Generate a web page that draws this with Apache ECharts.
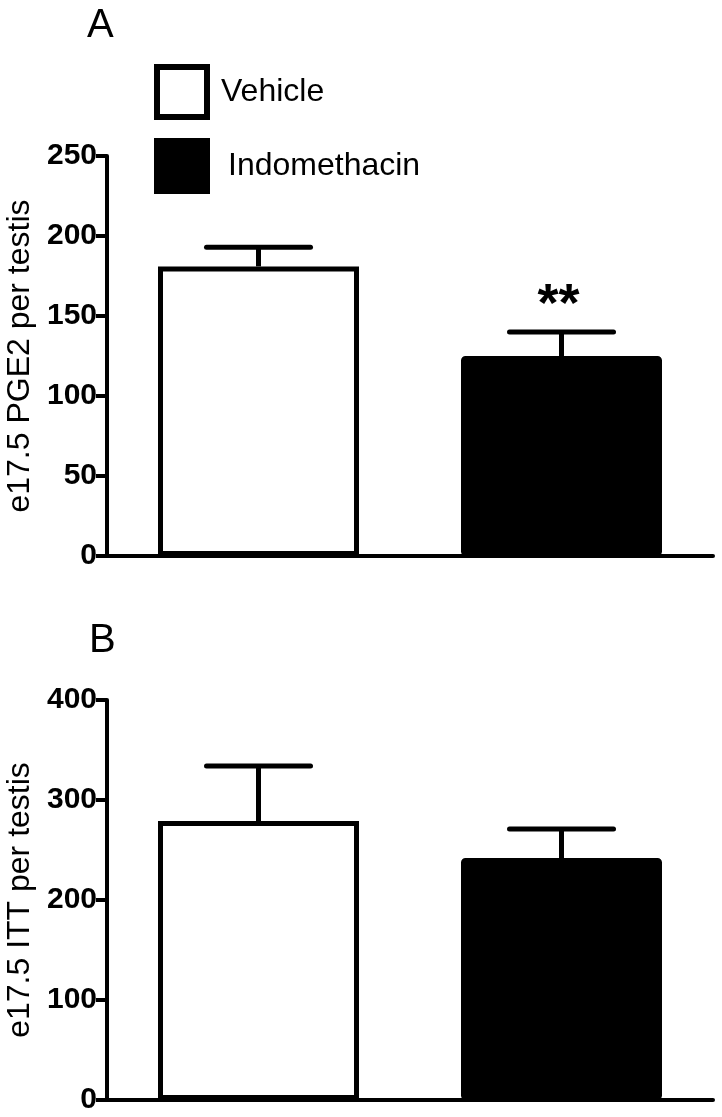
<!DOCTYPE html>
<html>
<head>
<meta charset="utf-8">
<script src="https://cdn.jsdelivr.net/npm/echarts@6/dist/echarts.min.js"></script>
<style>
  html, body { margin: 0; padding: 0; background: #fff; }
  #chart { width: 722px; height: 1117px; }
</style>
</head>
<body>
<div id="chart"></div>
<script>
// ---- data ----
const categories = ['Vehicle', 'Indomethacin'];
const pgeMean = [181, 125];
const pgeSem = [12, 15];
const pgeSignificance = ['', '**'];
const ittMean = [279, 242];
const ittSem = [55, 29];
const ittSignificance = ['', ''];
const pgeTicks = [0, 50, 100, 150, 200, 250];
const ittTicks = [0, 100, 200, 300, 400];
const panelLabels = ['A', 'B'];
const yTitles = ['e17.5 PGE2 per testis', 'e17.5 ITT per testis'];

const FONT = '"Liberation Sans", Arial, Helvetica, sans-serif';
const chart = echarts.init(document.getElementById('chart'), null, { renderer: 'canvas' });

function yAxisFor(ticks, gridIndex, title) {
  return {
    type: 'value',
    gridIndex: gridIndex,
    min: ticks[0],
    max: ticks[ticks.length - 1],
    interval: ticks[1] - ticks[0],
    name: title,
    nameLocation: 'middle',
    nameGap: 65,
    nameTextStyle: { fontFamily: FONT, fontSize: 32, color: '#000' },
    axisLine: { show: true, lineStyle: { color: '#000', width: 4 } },
    axisTick: { show: true, length: 11, lineStyle: { color: '#000', width: 4 } },
    axisLabel: { margin: 10, fontFamily: FONT, fontSize: 30, fontWeight: 'bold', color: '#000' },
    splitLine: { show: false }
  };
}

function xAxisFor(gridIndex) {
  return {
    type: 'category',
    gridIndex: gridIndex,
    data: categories,
    axisLine: { show: true, lineStyle: { color: '#000', width: 4 } },
    axisTick: { show: false },
    axisLabel: { show: false }
  };
}

function barsFor(means, gridIndex) {
  return [
    {
      name: categories[0], type: 'bar', xAxisIndex: gridIndex, yAxisIndex: gridIndex,
      data: means.map((m, i) => i === 0 ? m : '-'),
      barWidth: 201, barGap: '-100%',
      itemStyle: { color: '#fff', borderColor: '#000', borderWidth: 5 },
      emphasis: { disabled: true }, z: 2
    },
    {
      name: categories[1], type: 'bar', xAxisIndex: gridIndex, yAxisIndex: gridIndex,
      data: means.map((m, i) => i === 1 ? m : '-'),
      barWidth: 201, barGap: '-100%',
      itemStyle: { color: '#000', borderColor: '#000', borderWidth: 5, borderRadius: 2 },
      emphasis: { disabled: true }, z: 2
    }
  ];
}

function errorsFor(means, sems, sig, gridIndex) {
  return {
    type: 'custom', xAxisIndex: gridIndex, yAxisIndex: gridIndex,
    data: means.map((m, i) => [i, m, m + sems[i]]),
    z: 5, silent: true,
    renderItem: function (params, api) {
      const base = api.coord([api.value(0), api.value(1)]);
      const top = api.coord([api.value(0), api.value(2)]);
      const half = 52;
      const st = { stroke: '#000', lineWidth: 5, lineCap: 'round' };
      const children = [
        { type: 'line', shape: { x1: base[0], y1: base[1], x2: top[0], y2: top[1] }, style: Object.assign({}, st, { lineCap: 'butt' }) },
        { type: 'line', shape: { x1: top[0] - half, y1: top[1], x2: top[0] + half, y2: top[1] }, style: st }
      ];
      const s = sig[params.dataIndex];
      if (s) {
        children.push({
          type: 'text',
          style: {
            text: s, x: top[0] - 3, y: top[1] - 26,
            font: 'bold 54px ' + FONT, fill: '#000',
            align: 'center', verticalAlign: 'middle'
          }
        });
      }
      return { type: 'group', children: children };
    }
  };
}

const option = {
  backgroundColor: '#fff',
  animation: false,
  grid: [
    { left: 107, top: 156, width: 606, height: 400, containLabel: false, outerBoundsMode: 'none' },
    { left: 107, top: 700, width: 606, height: 400, containLabel: false, outerBoundsMode: 'none' }
  ],
  legend: {
    orient: 'vertical',
    left: 154, top: 64,
    padding: 0,
    itemWidth: 50, itemHeight: 50, itemGap: 18,
    icon: 'rect',
    selectedMode: false,
    textStyle: { fontFamily: FONT, fontSize: 32, color: '#000' },
    data: [
      { name: categories[0], itemStyle: { color: '#fff', borderColor: '#000', borderWidth: 6 }, textStyle: { padding: [0, 0, 0, 9] } },
      { name: categories[1], itemStyle: { color: '#000', borderColor: '#000', borderWidth: 6 }, textStyle: { padding: [0, 0, 0, 16] } }
    ]
  },
  graphic: [
    { type: 'text', left: 87, top: 6, style: { text: panelLabels[0], font: '40px ' + FONT, fill: '#000' } },
    { type: 'text', left: 89, top: 621, style: { text: panelLabels[1], font: '40px ' + FONT, fill: '#000' } }
  ],
  xAxis: [xAxisFor(0), xAxisFor(1)],
  yAxis: [yAxisFor(pgeTicks, 0, yTitles[0]), yAxisFor(ittTicks, 1, yTitles[1])],
  series: [].concat(
    barsFor(pgeMean, 0),
    [errorsFor(pgeMean, pgeSem, pgeSignificance, 0)],
    barsFor(ittMean, 1),
    [errorsFor(ittMean, ittSem, ittSignificance, 1)]
  )
};
chart.setOption(option);
</script>
</body>
</html>
